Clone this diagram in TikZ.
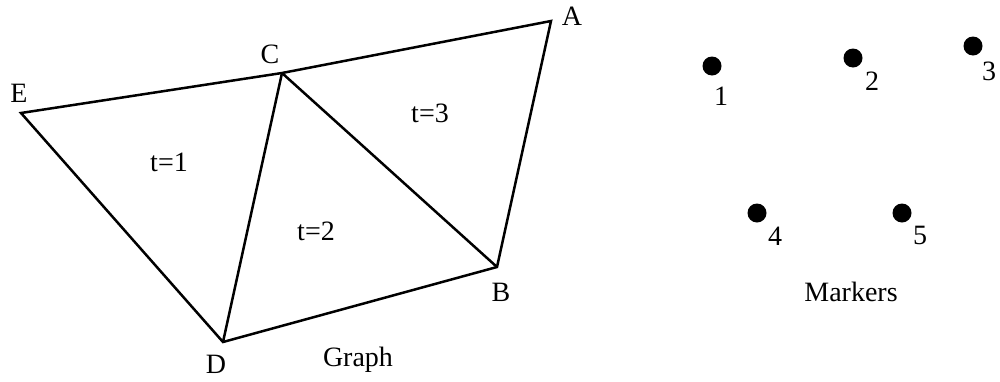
\documentclass[tikz,border=0pt]{standalone}
\usepackage{fontspec}
\setmainfont{Liberation Serif}
\begin{document}
\begin{tikzpicture}[x=1pt,y=-1pt,
  edge/.style={line width=2.5pt},
  lbl/.style={anchor=base,inner sep=0pt,font=\fontsize{28}{33}\selectfont},
  dot/.style={circle,fill=black,inner sep=0pt,minimum size=19pt}]
\useasboundingbox (0,0) rectangle (1000,381);
% vertices
\coordinate (A) at (551,21);
\coordinate (C) at (282,73);
\coordinate (E) at (21,113);
\coordinate (D) at (223,342);
\coordinate (B) at (497,267);
\draw[edge] (E) -- (C) -- (A) -- (B) -- (D) -- cycle;
\draw[edge] (C) -- (D);
\draw[edge] (C) -- (B);
% vertex labels
\node[lbl] (lA) at (572,25) {A};
\node[lbl] (lC) at (270,63) {C};
\node[lbl] (lE) at (19,102) {E};
\node[lbl] (lD) at (216,373) {D};
\node[lbl] (lB) at (501,301) {B};
\node[lbl] (t1) at (169,171) {t=1};
\node[lbl] (t2) at (316,240) {t=2};
\node[lbl] (t3) at (430,122) {t=3};
\node[lbl] (graph) at (358,366) {Graph};
% markers
\node[dot] (m1) at (712,66) {};
\node[dot] (m2) at (853,58) {};
\node[dot] (m3) at (973,46) {};
\node[dot] (m4) at (757,213) {};
\node[dot] (m5) at (902,213) {};
\node[lbl] (n1) at (721,105) {1};
\node[lbl] (n2) at (872,90) {2};
\node[lbl] (n3) at (989,80) {3};
\node[lbl] (n4) at (775,245) {4};
\node[lbl] (n5) at (920,244) {5};
\node[lbl] (markers) at (851,301) {Markers};
\end{tikzpicture}
\end{document}
